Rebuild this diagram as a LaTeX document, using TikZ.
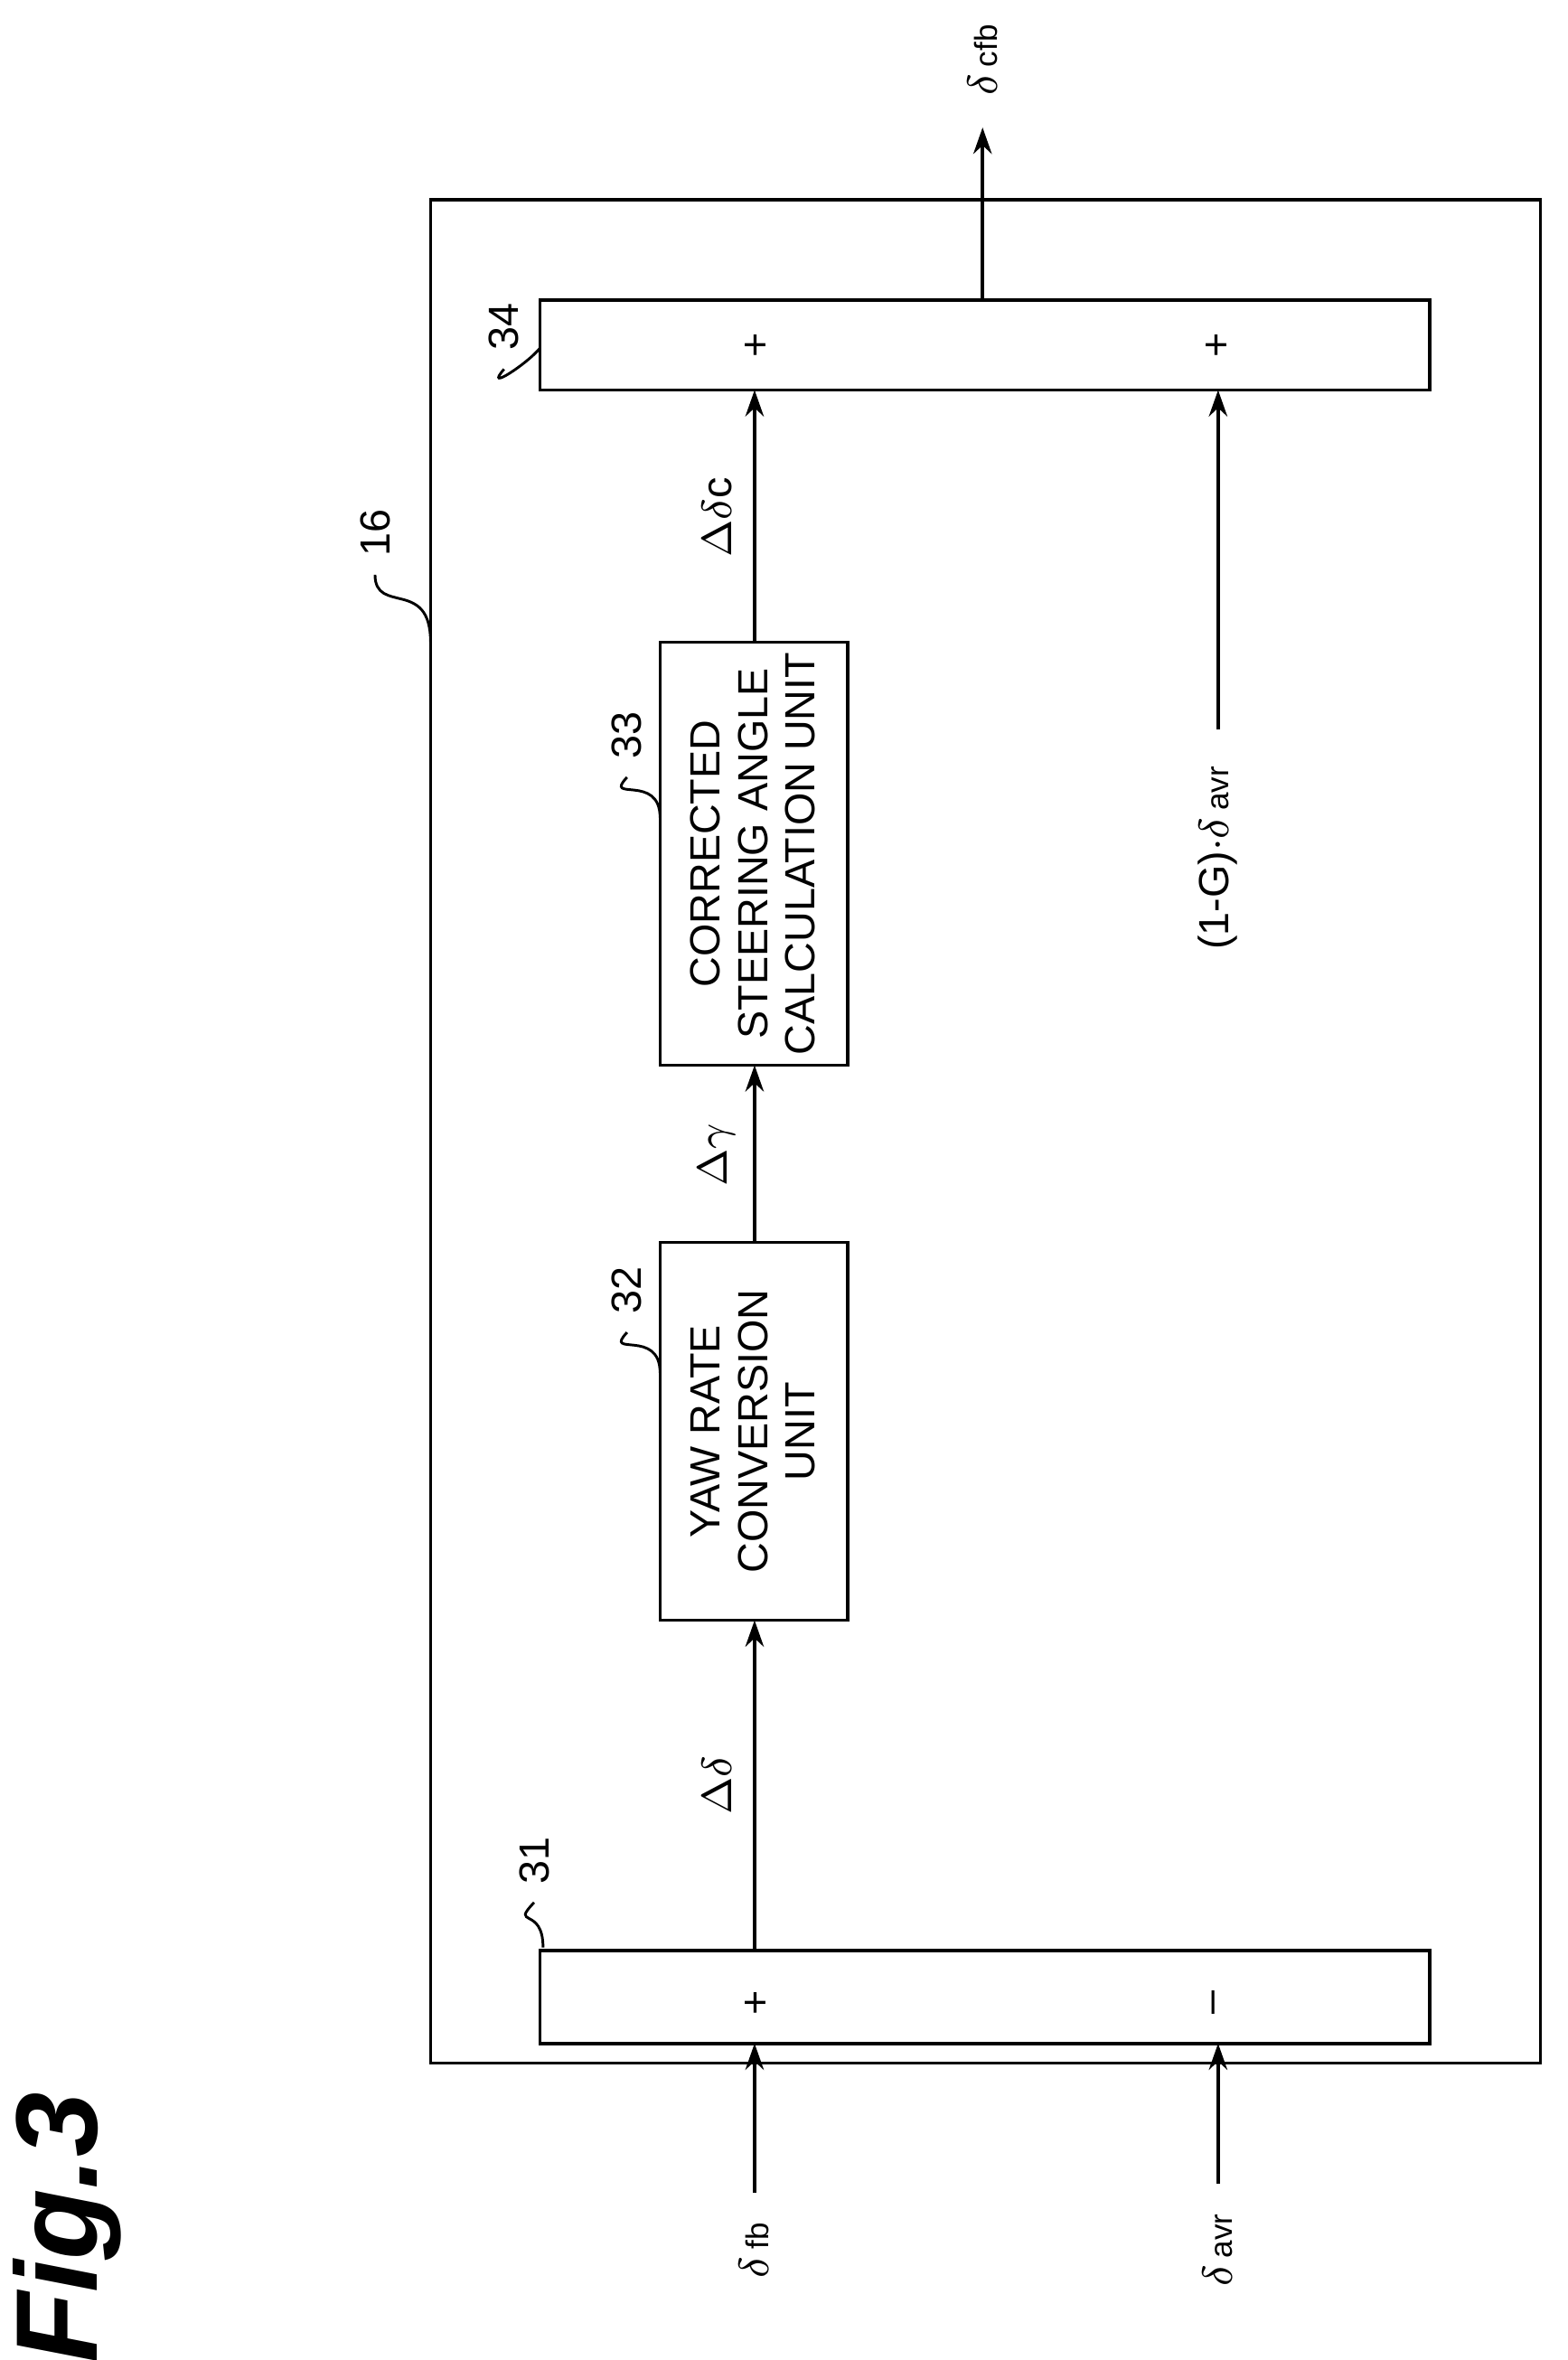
\documentclass[tikz,border=0pt]{standalone}
\usepackage{fontspec}
\setmainfont{Liberation Sans}
\usetikzlibrary{arrows.meta}
\begin{document}
\begin{tikzpicture}[x=0.01cm,y=-0.01cm,
    sig/.style={line width=0.6pt,-{Stealth[length=5pt,width=3.5pt]}},
    lbl/.style={rotate=90,font=\fontsize{8}{9}\selectfont},
    ref/.style={rotate=90,font=\fontsize{8}{9}\selectfont},
    lead/.style={line width=0.5pt}]

    \useasboundingbox (0,0) rectangle (1045,1573);

    % outer unit
    \draw[line width=0.6pt] (287,133) rectangle (1027,1375);

    % blocks
    \draw[line width=0.6pt] (360,200) rectangle (953,260);
    \draw[line width=0.6pt] (360,1300) rectangle (953,1362);
    \draw[line width=0.6pt] (440,428) rectangle (565,710);
    \draw[line width=0.6pt] (440,828) rectangle (565,1080);

    \node[lbl,align=center] (t33) at (502,569) {CORRECTED\\STEERING ANGLE\\CALCULATION UNIT};
    \node[lbl,align=center] (t32) at (502,954) {YAW RATE\\CONVERSION\\UNIT};

    % signs
    \node[lbl] (p1) at (505,230) {+};
    \node[lbl] (p2) at (812,230) {+};
    \node[lbl] (p3) at (505,1335) {+};
    \node[lbl] (m1) at (812,1335) {\textendash};

    % coordinates
    \coordinate (o31) at (503,1300);
    \coordinate (i32) at (503,1080);
    \coordinate (o32) at (503,828);
    \coordinate (i33) at (503,710);
    \coordinate (o33) at (503,428);
    \coordinate (i34a) at (503,260);
    \coordinate (i34b) at (812,260);
    \coordinate (o34) at (655,200);
    \coordinate (out) at (655,85);
    \coordinate (i31a) at (503,1362);
    \coordinate (i31b) at (812,1362);

    \node[lbl] (dd) at (478,1190) {$\Delta\delta$};
    \node[lbl] (dg) at (478,770) {$\Delta\gamma$};
    \node[lbl] (ddc) at (478,345) {$\Delta\delta$c};
    \node[lbl] (dcfb) at (655,40) {$\delta$\,{\fontsize{6}{7}\selectfont cfb}};
    \node[lbl] (dfb) at (503,1500) {$\delta$\,{\fontsize{6}{7}\selectfont fb}};
    \node[lbl] (davr) at (812,1500) {$\delta$\,{\fontsize{6}{7}\selectfont avr}};
    \node[lbl] (g) at (812,572) {(1-G)$\cdot\delta$\,{\fontsize{6}{7}\selectfont avr}};

    % signals
    \draw[sig] (o31) -- (i32);
    \draw[sig] (o32) -- (i33);
    \draw[sig] (o33) -- (i34a);
    \draw[sig] (o34) -- (out);
    \draw[sig] (dfb.east) ++(0,-8) -- (i31a);
    \draw[sig] (davr.east) ++(0,-8) -- (i31b);
    \draw[sig] (g.east) ++(0,-12) -- (i34b);

    % reference numerals
    \node[ref] (r31) at (356,1240) {31};
    \node[ref] (r32) at (418,860) {32};
    \node[ref] (r33) at (418,490) {33};
    \node[ref] (r34) at (336,218) {34};
    \node[ref] (r16) at (250,355) {16};
    \draw[lead] (r31.west) .. controls (340,1285) and (362,1270) .. (362,1298);
    \draw[lead] (r32.west) .. controls (402,905) and (440,885) .. (440,915);
    \draw[lead] (r33.west) .. controls (402,535) and (440,515) .. (440,545);
    \draw[lead] (r34.west) .. controls (322,262) and (352,242) .. (360,232);
    \draw[lead] (r16.west) .. controls (250,410) and (287,385) .. (287,428);

    \node[rotate=90,font=\bfseries\itshape\fontsize{22}{24}\selectfont] (fig) at (45,1485) {Fig.3};
\end{tikzpicture}
\end{document}
